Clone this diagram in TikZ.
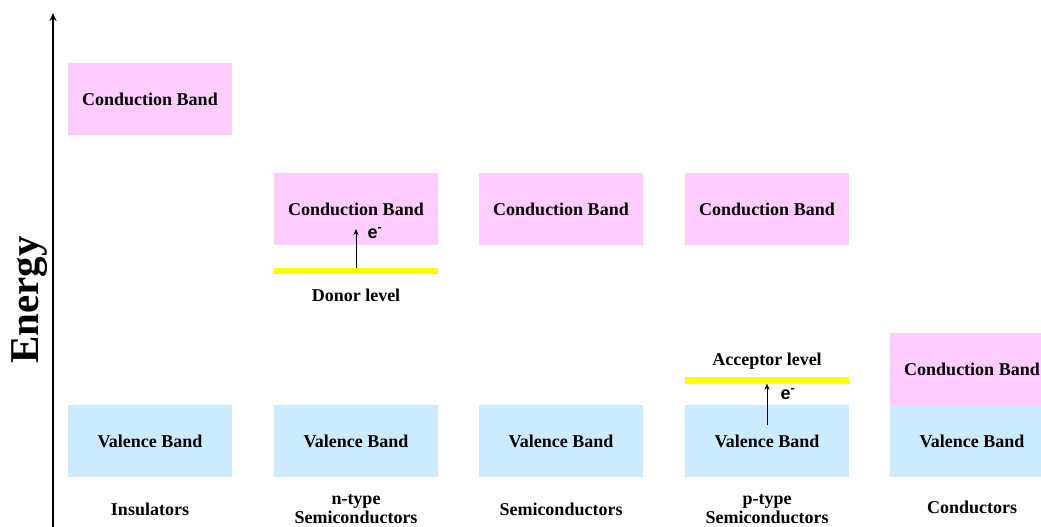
\documentclass[tikz,border=0pt]{standalone}
\usepackage{fontspec}
\setmainfont{Liberation Serif}
\newfontfamily\arialfont{Liberation Sans}
\usetikzlibrary{arrows.meta}
\definecolor{condpink}{HTML}{FFCCFF}
\definecolor{valblue}{HTML}{CCEBFF}
\definecolor{levelyellow}{HTML}{FFFF00}
\begin{document}
\begin{tikzpicture}[x=1pt,y=-1pt]
      \tikzset{band/.style={inner sep=0pt,
          outer sep=0pt,
          minimum width=164pt,
          minimum height=72pt,
          fill=#1,
          font=\fontsize{18}{20}\selectfont\bfseries},
        level line/.style={inner sep=0pt,
          outer sep=0pt,
          minimum width=164pt,
          minimum height=6.5pt,
          fill=levelyellow},
        caption/.style={align=center,
          font=\fontsize{18}{19}\selectfont\bfseries},
        electron/.style={font=\arialfont\fontsize{18}{18}\selectfont\bfseries}
      }
      \useasboundingbox (0,0) rectangle (1041,527);
      % energy axis
      \coordinate (axbot) at (53,527);
      \coordinate (axtop) at (53,13);
      \draw [line width=2pt,-{Stealth[length=8pt,width=7pt]}] (axbot)--(axtop);
      \node [rotate=90,font=\fontsize{41}{41}\selectfont\bfseries] (energy) at (30,300) {Energy};
      % insulators
      \node [band=condpink] (cb1) at (150,99) {Conduction Band};
      \node [band=valblue] (vb1) at (150,441) {Valence Band};
      \node [caption] (lab1) at (150,509) {Insulators};
      % n-type
      \node [band=condpink] (cb2) at (356,209) {Conduction Band};
      \node [level line] (don) at (356,271) {};
      \node [caption] (donlab) at (356,295) {Donor level};
      \node [band=valblue] (vb2) at (356,441) {Valence Band};
      \node [caption] (lab2) at (356,509) {n-type\\Semiconductors};
      \coordinate (e2) at (356,229);
      \draw [-{Stealth[length=6pt,width=5pt]}] (don.north)--(e2);
      \node [electron] (el2) at (375,233) {e\textsuperscript{-}};
      % intrinsic
      \node [band=condpink] (cb3) at (561,209) {Conduction Band};
      \node [band=valblue] (vb3) at (561,441) {Valence Band};
      \node [caption] (lab3) at (561,509) {Semiconductors};
      % p-type
      \node [band=condpink] (cb4) at (767,209) {Conduction Band};
      \node [caption] (acclab) at (767,361) {Acceptor level};
      \node [level line] (acc) at (767,380.5) {};
      \node [band=valblue] (vb4) at (767,441) {Valence Band};
      \node [caption] (lab4) at (767,509) {p-type\\Semiconductors};
      \coordinate (v4) at (767,425);
      \draw [-{Stealth[length=6pt,width=5pt]}] (v4)--(acc.south);
      \node [electron] (el4) at (788,394) {e\textsuperscript{-}};
      % conductors
      \node [band=condpink] (cb5) at (972,369) {Conduction Band};
      \node [band=valblue] (vb5) at (972,441) {Valence Band};
      \node [caption] (lab5) at (972,507) {Conductors};
    \end{tikzpicture}
\end{document}
